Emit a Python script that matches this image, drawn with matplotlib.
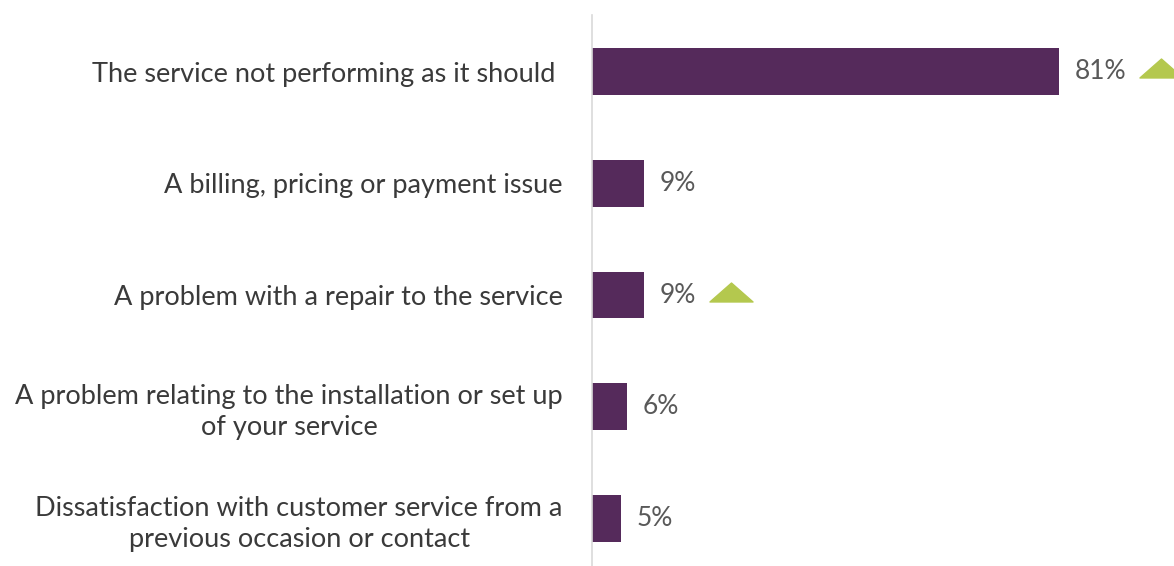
import matplotlib.pyplot as plt
from matplotlib.path import Path
from matplotlib.transforms import offset_copy

categories = [
    "The service not performing as it should ",
    "A billing, pricing or payment issue",
    "A problem with a repair to the service",
    "A problem relating to the installation or set up\nof your service",
    "Dissatisfaction with customer service from a\nprevious occasion or contact",
]
values = [81, 9, 9, 6, 5]
labels = ["81%", "9%", "9%", "6%", "5%"]
up_flags = [True, False, True, False, False]

plt.rcParams['font.family'] = ['Lato', 'DejaVu Sans']

fig = plt.figure(figsize=(11.74, 5.66), dpi=100)
ax = fig.add_axes([592 / 1174, 0, 1 - 592 / 1174, 551 / 566])

pos = list(range(len(categories)))
ax.barh(pos, values, height=0.42, color='#552a5b')
ax.set_xlim(0, 101)
ax.set_ylim(4.425, -0.506)

ax.set_yticks(pos)
ax.set_yticklabels(categories, fontsize=19.5, color='#3a3a3a', ha='right',
                   multialignment='center', linespacing=1.3)
ax.tick_params(axis='y', length=0, pad=21)
ax.set_xticks([])
for s in ['top', 'right', 'bottom']:
    ax.spines[s].set_visible(False)
ax.spines['left'].set_color('#d9d9d9')
ax.spines['left'].set_linewidth(1.2)

# triangle marker wider than it is tall
tri = Path([(-1, -0.44), (1, -0.44), (0, 0.44), (-1, -0.44)],
           [Path.MOVETO, Path.LINETO, Path.LINETO, Path.CLOSEPOLY])

fig.canvas.draw()
renderer = fig.canvas.get_renderer()
for i, (v, lab, up) in enumerate(zip(values, labels, up_flags)):
    t = ax.text(v, i, lab, fontsize=19, color='#595959', va='center', ha='left',
                transform=offset_copy(ax.transData, fig=fig, x=16, y=0, units='dots'))
    if up:
        bb = t.get_window_extent(renderer)
        x0 = bb.x1 + 13 + 21.5
        xd = ax.transData.inverted().transform((x0, 0))[0]
        ax.plot([xd], [i - 0.03], marker=tri, markersize=31, color='#b4c84e',
                linestyle='none', clip_on=False)

fig.savefig('out.png', dpi=100)
